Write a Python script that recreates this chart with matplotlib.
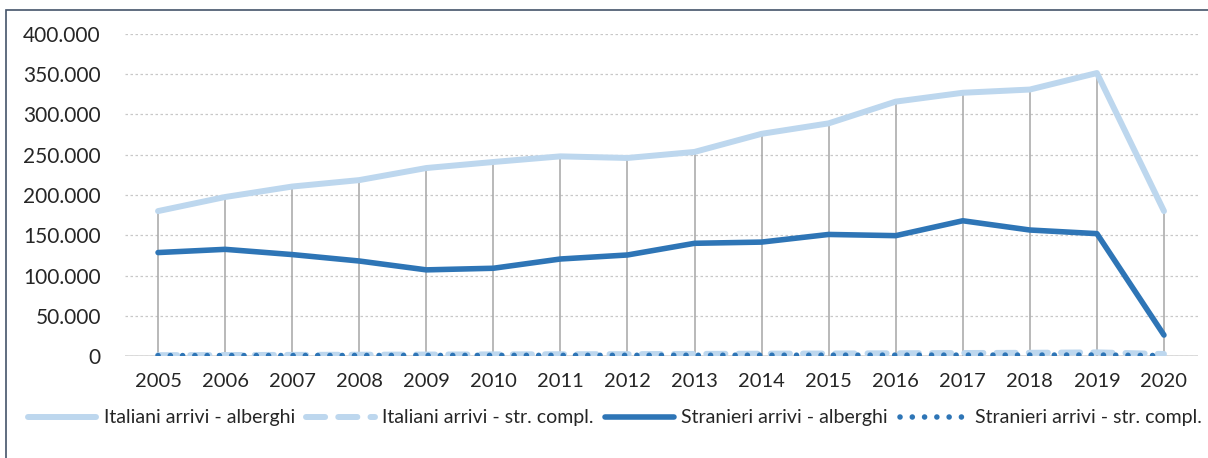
import numpy as np
import matplotlib.pyplot as plt
from matplotlib.ticker import FuncFormatter
from matplotlib.patches import Rectangle

# dati
anni = [str(a) for a in range(2005, 2021)]
ita_alberghi = [180000, 197500, 210500, 218500, 233500, 241000, 248000, 246000,
                253500, 276000, 289000, 316000, 327000, 331000, 351500, 180000]
ita_compl = [1000, 1200, 1400, 1600, 1800, 2000, 2200, 2300,
             2600, 2900, 3100, 3400, 3700, 4000, 4500, 2500]
str_alberghi = [128500, 132500, 126000, 118000, 107000, 109000, 120500, 125500,
                140000, 141500, 151000, 149500, 168000, 156500, 152000, 26000]
str_compl = [500, 550, 600, 650, 700, 750, 800, 850,
             900, 950, 1000, 1050, 1100, 1150, 1200, 500]

plt.rcParams['font.family'] = ['Lato', 'DejaVu Sans']

fig = plt.figure(figsize=(12.08, 4.58), dpi=100)
W, H = 1208, 458
ax = fig.add_axes([124.5 / W, (H - 356) / H, 1073 / W, 322 / H])

x = np.arange(len(anni))
massimi = np.max([ita_alberghi, ita_compl, str_alberghi, str_compl], axis=0)

# linee verticali (alto-basso)
ax.vlines(x, 0, massimi, color='#A6A6A6', lw=1.1, zorder=2)

c_chiaro = '#BDD7EE'
c_scuro = '#2E75B6'

ax.plot(x, ita_alberghi, color=c_chiaro, lw=4.3, solid_capstyle='round',
        solid_joinstyle='round', label='Italiani arrivi - alberghi', zorder=3)
ax.plot(x, ita_compl, color=c_chiaro, lw=4.3, linestyle=(0, (3.2, 2.2)),
        dash_capstyle='round', label='Italiani arrivi - str. compl.', zorder=3)
ax.plot(x, str_alberghi, color=c_scuro, lw=4.0, solid_capstyle='round',
        solid_joinstyle='round', label='Stranieri arrivi - alberghi', zorder=4)
ax.plot(x, str_compl, color=c_scuro, lw=4.0, linestyle=(0, (0.01, 2.2)),
        dash_capstyle='round', label='Stranieri arrivi - str. compl.', zorder=4)

ax.set_xlim(-0.5, len(anni) - 0.5)
ax.set_ylim(0, 400000)
ax.set_yticks(np.arange(0, 400001, 50000))
ax.yaxis.set_major_formatter(FuncFormatter(lambda v, p: f"{int(v):,}".replace(",", ".")))
ax.set_xticks(x)
ax.set_xticklabels(anni)

ax.grid(axis='y', color='#C8C8C8', linestyle=(0, (2, 2)), lw=0.9, zorder=0)
ax.axhline(0, color='#D9D9D9', lw=2, zorder=1)

for s in ax.spines.values():
    s.set_visible(False)
ax.tick_params(axis='both', length=0, colors='#262626')
ax.tick_params(axis='y', pad=17, labelsize=15)
ax.tick_params(axis='x', pad=12, labelsize=14.5)

leg = fig.legend(loc='center', bbox_to_anchor=(0.5 + 11 / W, (H - 418) / H), ncol=4,
                 frameon=False, fontsize=14, handlelength=3.5, handletextpad=0.4,
                 columnspacing=0.6, labelcolor='#262626')

# bordo del grafico
fig.patches.append(Rectangle((6 / W, -0.1), 1.2, (H - 10) / H + 0.1,
                             transform=fig.transFigure, fill=False,
                             edgecolor='#44546A', lw=1.2))

fig.savefig('out.png', dpi=100)
